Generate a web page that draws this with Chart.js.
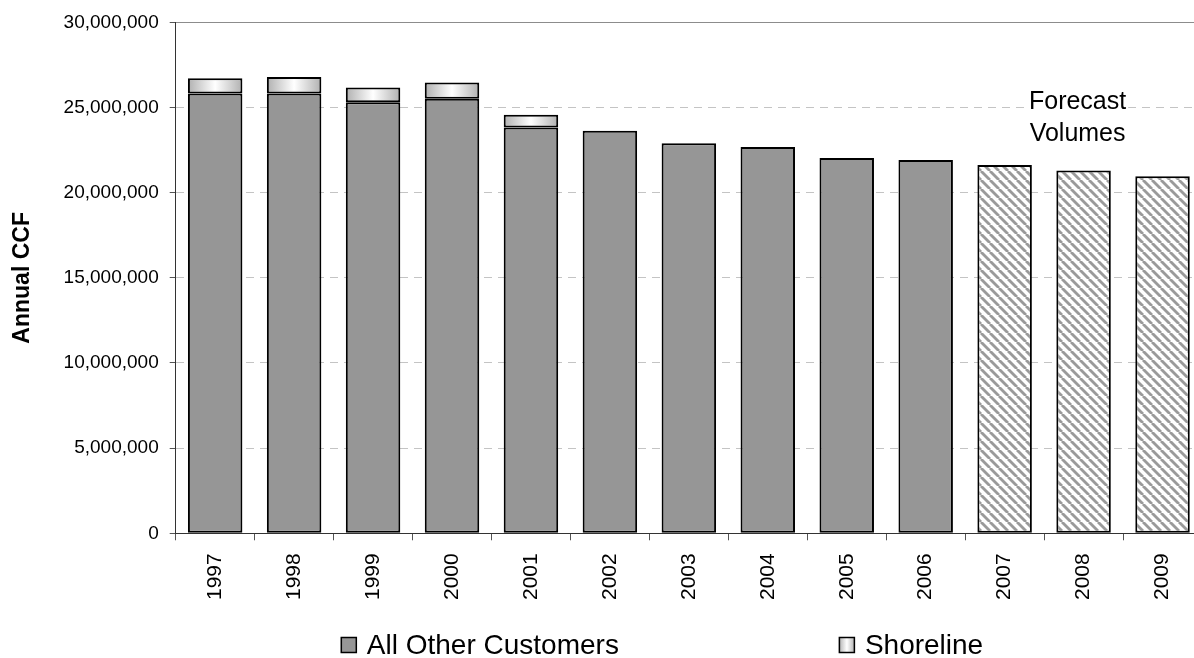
<!DOCTYPE html>
<html>
<head>
<meta charset="utf-8">
<script src="https://cdn.jsdelivr.net/npm/chart.js@4.4.1/dist/chart.umd.min.js"></script>
<style>
  html, body { margin: 0; padding: 0; background: #fff; overflow: hidden; }
  #wrap { width: 1324px; height: 658px; }
</style>
</head>
<body>
<div id="wrap"><canvas id="volumeChart" width="1324" height="658"></canvas></div>
<script>
const years = ['1997', '1998', '1999', '2000', '2001', '2002', '2003', '2004', '2005', '2006', '2007', '2008', '2009'];
const otherCustomers = [25820000, 25820000, 25310000, 25510000, 23830000, 23640000, 22900000, 22680000, 22040000, 21920000, 21630000, 21300000, 20970000];
const shoreline = [900000, 980000, 860000, 960000, 750000, null, null, null, null, null, null, null, null];
const firstForecastYear = '2007';
const forecastNote = ['Forecast', 'Volumes'];
const yMax = 30000000;
const yStep = 5000000;

const FONT = '"Liberation Sans", Arial, sans-serif';
const barFraction = 0.69;
const forecastIndex = years.indexOf(firstForecastYear);

const canvas = document.getElementById('volumeChart');
const mainCtx = canvas.getContext('2d');

// diagonal hatch used for the forecast bars
function makeHatch() {
  const s = 9;
  const tile = document.createElement('canvas');
  tile.width = s;
  tile.height = s;
  const g = tile.getContext('2d');
  g.fillStyle = '#ffffff';
  g.fillRect(0, 0, s, s);
  g.strokeStyle = '#9a9a9a';
  g.lineWidth = 2.8;
  for (const k of [-s, 0, s]) {
    g.beginPath();
    g.moveTo(k, 0);
    g.lineTo(k + s, s);
    g.stroke();
  }
  return mainCtx.createPattern(tile, 'repeat');
}
const hatch = makeHatch();

function shineGradient(ctx2d, x0, x1) {
  const g = ctx2d.createLinearGradient(x0, 0, x1, 0);
  g.addColorStop(0, '#b0b0b0');
  g.addColorStop(0.5, '#ffffff');
  g.addColorStop(1, '#b0b0b0');
  return g;
}

function shorelineFill(context) {
  const chart = context.chart;
  const xs = chart.scales.x;
  if (context.type !== 'data' || !xs || !chart.chartArea) return '#dcdcdc';
  const cx = xs.getPixelForValue(context.dataIndex);
  const half = xs.width / years.length * barFraction / 2;
  return shineGradient(chart.ctx, cx - half, cx + half);
}

const forecastLabel = {
  id: 'forecastLabel',
  beforeDatasetsDraw(chart) {
    const { ctx, scales: { x, y } } = chart;
    const cx = x.getPixelForValue(years.indexOf('2008')) - 6;
    const base = y.getPixelForValue(25000000) + 1;
    ctx.save();
    ctx.font = '25px ' + FONT;
    ctx.textAlign = 'center';
    ctx.textBaseline = 'alphabetic';
    const w = Math.max(...forecastNote.map(t => ctx.measureText(t).width));
    ctx.fillStyle = '#ffffff';
    ctx.fillRect(cx - w / 2 - 2, base - 20, w + 4, 26);
    ctx.fillStyle = '#000000';
    forecastNote.forEach((t, i) => ctx.fillText(t, cx, base + i * 32));
    ctx.restore();
  }
};

const bottomLegend = {
  id: 'bottomLegend',
  afterDraw(chart) {
    const ctx = chart.ctx;
    const box = 16, textGap = 10, itemGap = 220;
    ctx.save();
    ctx.font = '28px ' + FONT;
    const items = chart.data.datasets.map((ds, i) => ({
      label: ds.label,
      idx: i,
      w: box + textGap + ctx.measureText(ds.label).width
    }));
    const total = items.reduce((s, it) => s + it.w, 0) + itemGap * (items.length - 1);
    let x = chart.width / 2 - total / 2;
    const cy = chart.height - 13;
    items.forEach(it => {
      const top = cy - box / 2;
      ctx.fillStyle = it.idx === 0 ? '#969696' : shineGradient(ctx, x, x + box);
      ctx.fillRect(x, top, box, box);
      ctx.strokeStyle = '#000000';
      ctx.lineWidth = 1.5;
      ctx.strokeRect(x + 0.5, top + 0.5, box - 1, box - 1);
      ctx.fillStyle = '#000000';
      ctx.textBaseline = 'middle';
      ctx.textAlign = 'left';
      ctx.fillText(it.label, x + box + textGap, cy + 1);
      x += it.w + itemGap;
    });
    ctx.restore();
  }
};

new Chart(canvas, {
  type: 'bar',
  data: {
    labels: years,
    datasets: [{
      label: 'All Other Customers',
      data: otherCustomers,
      backgroundColor: ctx => ctx.dataIndex >= forecastIndex ? hatch : '#969696',
      borderColor: '#000000',
      borderWidth: 2,
      borderSkipped: false,
      barPercentage: barFraction,
      categoryPercentage: 1
    }, {
      label: 'Shoreline',
      data: shoreline,
      backgroundColor: shorelineFill,
      borderColor: '#000000',
      borderWidth: 2,
      borderSkipped: false,
      barPercentage: barFraction,
      categoryPercentage: 1
    }]
  },
  options: {
    responsive: false,
    animation: false,
    devicePixelRatio: 1,
    layout: { padding: { left: 9, top: 12, right: 122, bottom: 45 } },
    plugins: {
      legend: { display: false },
      tooltip: { enabled: false }
    },
    scales: {
      x: {
        stacked: true,
        offset: true,
        grid: { offset: true, drawOnChartArea: false, tickLength: 7, color: '#555555' },
        border: { color: '#333333', width: 1 },
        ticks: {
          autoSkip: false,
          minRotation: 90,
          maxRotation: 90,
          padding: 13,
          color: '#000000',
          font: { family: FONT, size: 21 }
        }
      },
      xTop: {
        type: 'category',
        position: 'top',
        grid: { display: false },
        ticks: { display: false },
        border: { color: '#8c8c8c', width: 1 }
      },
      y: {
        stacked: true,
        min: 0,
        max: yMax,
        grid: {
          color: ctx => ctx.tick && ctx.tick.value === yMax ? 'rgba(0,0,0,0)' : '#c4c4c4',
          tickColor: '#555555',
          tickLength: 6
        },
        border: { color: '#333333', width: 1, dash: [8, 6] },
        ticks: {
          stepSize: yStep,
          padding: 11,
          color: '#000000',
          font: { family: FONT, size: 19 },
          callback: v => v.toLocaleString('en-US')
        },
        title: {
          display: true,
          text: 'Annual CCF',
          color: '#000000',
          font: { family: FONT, size: 23, weight: 'bold' },
          padding: { top: 0, bottom: 16 }
        }
      }
    }
  },
  plugins: [forecastLabel, bottomLegend]
});
</script>
</body>
</html>
